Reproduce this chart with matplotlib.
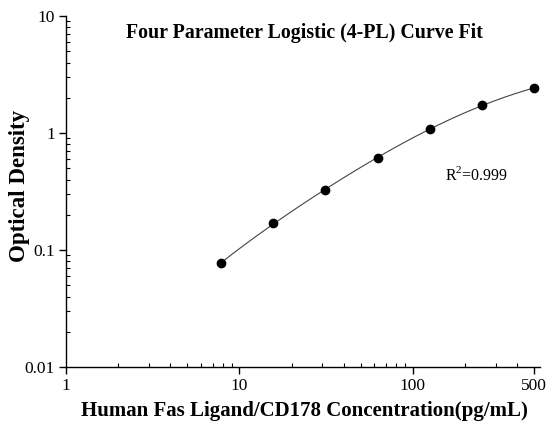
import numpy as np
import matplotlib
matplotlib.use("Agg")
import matplotlib.pyplot as plt
from matplotlib.ticker import FixedLocator, NullFormatter, FixedFormatter

# Data
concentration = [7.8, 15.6, 31.25, 62.5, 125, 250, 500]
optical_density = [0.077, 0.169, 0.326, 0.615, 1.076, 1.745, 2.41]
x_major_ticks = [1, 10, 100, 500]
x_major_labels = ["1", "10", "100", "500"]
y_major_ticks = [0.01, 0.1, 1, 10]
y_major_labels = ["0.01", "0.1", "1", "10"]
title = "Four Parameter Logistic (4-PL) Curve Fit"
xlabel = "Human Fas Ligand/CD178 Concentration(pg/mL)"
ylabel = "Optical Density"
r2_text = "R$^2$=0.999"

x = np.array(concentration, float)
y = np.array(optical_density, float)


def fourpl(p, xx):
    A, B, C, D = p
    return D + (A - D) / (1.0 + (xx / C) ** B)


def fit_4pl(xx, yy, p0, iters=500):
    p = np.array(p0, float)
    lam = 1e-3
    def resid(q):
        return (fourpl(q, xx) - yy) / yy
    r = resid(p)
    cost = (r ** 2).sum()
    for _ in range(iters):
        J = np.zeros((len(xx), 4))
        for k in range(4):
            dp = np.zeros(4)
            dp[k] = 1e-6 * max(abs(p[k]), 1e-3)
            J[:, k] = (resid(p + dp) - r) / dp[k]
        H = J.T @ J
        g = J.T @ r
        step = np.linalg.solve(H + lam * np.diag(np.diag(H) + 1e-12), -g)
        pn = p + step
        if pn[2] <= 0:
            lam *= 10
            continue
        rn = resid(pn)
        cn = (rn ** 2).sum()
        if np.isfinite(cn) and cn < cost:
            p, r, cost = pn, rn, cn
            lam = max(lam / 3, 1e-9)
        else:
            lam *= 5
    return p


params = fit_4pl(x, y, [0.005, 1.0, 300.0, 4.0])
xs = np.logspace(np.log10(x.min()), np.log10(x.max()), 300)
ys = fourpl(params, xs)

plt.rcParams["font.family"] = ["Liberation Serif", "DejaVu Serif"]
plt.rcParams["mathtext.fontset"] = "custom"
plt.rcParams["mathtext.rm"] = "Liberation Serif"

fig = plt.figure(figsize=(5.48, 4.25), dpi=100)
ax = fig.add_axes([66 / 548, 1 - 367 / 425, 474 / 548, 351 / 425])

ax.plot(xs, ys, color="#444444", lw=0.8)
ax.plot(x, y, "o", color="black", ms=6)

ax.set_xscale("log")
ax.set_yscale("log")
ax.set_xlim(1, 540)
ax.set_ylim(0.01, 10)

for s in ["top", "right"]:
    ax.spines[s].set_visible(False)
for s in ["left", "bottom"]:
    ax.spines[s].set_linewidth(1.0)

ax.xaxis.set_major_locator(FixedLocator(x_major_ticks))
ax.xaxis.set_major_formatter(FixedFormatter(x_major_labels))
xminor = [m * d for d in (1, 10, 100) for m in range(2, 10) if m * d < 500]
ax.xaxis.set_minor_locator(FixedLocator(xminor))
ax.xaxis.set_minor_formatter(NullFormatter())

ax.yaxis.set_major_locator(FixedLocator(y_major_ticks))
ax.yaxis.set_major_formatter(FixedFormatter(y_major_labels))
yminor = [m * d for d in (0.01, 0.1, 1) for m in range(2, 10)]
ax.yaxis.set_minor_locator(FixedLocator(yminor))
ax.yaxis.set_minor_formatter(NullFormatter())

ax.tick_params(which="major", direction="out", length=5, width=1, labelsize=12.5, pad=3)
ax.tick_params(which="minor", direction="in", length=3, width=0.8)

ax.set_xlabel(xlabel, fontsize=15, fontweight="bold")
ax.xaxis.set_label_coords(0.504, -0.097)
ax.set_ylabel(ylabel, fontsize=16.5, fontweight="bold")
ax.yaxis.set_label_coords(-0.077, 0.516)
fig.text(0.555, 0.922, title, fontsize=14.3, fontweight="bold", ha="center", va="center")
ax.text(0.80, 0.547, r2_text, transform=ax.transAxes, fontsize=11.5, ha="left", va="center")

fig.savefig("out.png", dpi=100)
